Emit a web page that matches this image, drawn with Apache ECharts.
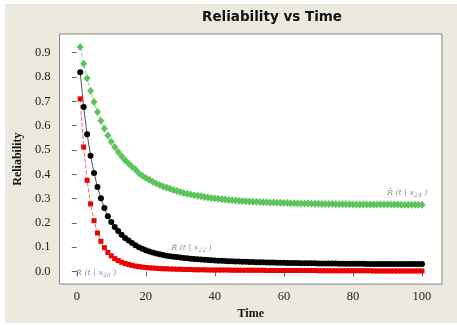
<!DOCTYPE html>
<html><head><meta charset="utf-8">
<script src="https://cdn.jsdelivr.net/npm/echarts@6/dist/echarts.min.js"></script>
<style>html,body{margin:0;padding:0;background:#fff}#c{width:457px;height:325px}</style>
</head><body><div id="c"></div>
<script>
const times = [1,2,3,4,5,6,7,8,9,10,11,12,13,14,15,16,17,18,19,20,21,22,23,24,25,26,27,28,29,30,31,32,33,34,35,36,37,38,39,40,41,42,43,44,45,46,47,48,49,50,51,52,53,54,55,56,57,58,59,60,61,62,63,64,65,66,67,68,69,70,71,72,73,74,75,76,77,78,79,80,81,82,83,84,85,86,87,88,89,90,91,92,93,94,95,96,97,98,99,100];
const rX24 = [.923,.855,.795,.744,.697,.656,.620,.588,.559,.534,.512,.492,.474,.458,.444,.431,.419,.404,.394,.385,.377,.369,.362,.356,.350,.345,.340,.335,.331,.327,.323,.320,.317,.314,.311,.309,.306,.304,.302,.300,.299,.297,.296,.294,.293,.292,.291,.290,.289,.288,.287,.287,.286,.285,.285,.284,.284,.283,.283,.282,.282,.281,.281,.281,.280,.280,.280,.279,.279,.279,.278,.278,.278,.278,.277,.277,.277,.277,.277,.276,.276,.276,.276,.276,.276,.275,.275,.275,.275,.275,.275,.275,.275,.274,.274,.274,.274,.274,.274,.274];
const rX22 = [.820,.677,.565,.476,.405,.348,.301,.261,.227,.203,.183,.166,.151,.138,.127,.117,.108,.100,.093,.087,.082,.078,.074,.071,.068,.065,.063,.061,.059,.057,.055,.054,.052,.051,.050,.049,.048,.047,.046,.045,.044,.044,.043,.042,.042,.041,.041,.040,.040,.039,.039,.038,.038,.038,.037,.037,.037,.036,.036,.036,.035,.035,.035,.035,.034,.034,.034,.034,.034,.033,.033,.033,.033,.033,.033,.032,.032,.032,.032,.032,.032,.032,.032,.031,.031,.031,.031,.031,.031,.031,.031,.031,.031,.031,.031,.031,.031,.031,.031,.031];
const rX20 = [.710,.512,.375,.278,.209,.158,.124,.098,.078,.064,.053,.045,.038,.033,.029,.025,.022,.020,.018,.016,.015,.014,.013,.012,.011,.011,.010,.010,.009,.009,.008,.008,.008,.007,.007,.007,.007,.006,.006,.006,.006,.006,.006,.006,.005,.005,.005,.005,.005,.005,.005,.005,.005,.005,.004,.004,.004,.004,.004,.004,.004,.004,.004,.004,.004,.004,.004,.004,.004,.003,.003,.003,.003,.003,.003,.003,.003,.003,.003,.003,.003,.003,.003,.003,.003,.002,.002,.002,.002,.002,.002,.002,.002,.002,.002,.002,.002,.002,.002,.002];
const xTicks = [0,20,40,60,80,100];
const yTicks = [0,0.1,0.2,0.3,0.4,0.5,0.6,0.7,0.8,0.9];
const yLabels = ['0.0','0.1','0.2','0.3','0.4','0.5','0.6','0.7','0.8','0.9'];
const curveNames = ['20','22','24'];
const labelPos = [[5.6,-0.006],[33.2,0.095],[95.7,0.325]];

const pairs = v => times.map((t,i)=>[t,v[i]]);
const tickFont = {fontFamily:'Liberation Serif', fontSize:12.5, color:'#222'};
const lblRich = {
  a:{fontFamily:'DejaVu Serif', fontStyle:'italic', fontSize:8, color:'#777'},
  s:{fontFamily:'DejaVu Serif', fontStyle:'italic', fontSize:6, color:'#777', padding:[5,0,0,0]}
};
const chart = echarts.init(document.getElementById('c'));
chart.setOption({
  animation:false,
  backgroundColor:'#fff',
  graphic:[
    {type:'rect', z:-10, shape:{x:5,y:4,width:452,height:319}, style:{fill:'#ECE9DF'}},
    {type:'text', x:272, y:17, style:{text:'Reliability vs Time', fontFamily:'DejaVu Sans', fontWeight:'bold', fontSize:13.5, fill:'#111', textAlign:'center', textVerticalAlign:'middle'}}
  ],
  grid:{left:59.5, right:15, top:34, bottom:34.5, show:true, backgroundColor:'#fff', borderColor:'#888', borderWidth:1},
  xAxis:{type:'value', min:-5, max:105.8, name:'Time', nameLocation:'middle', nameGap:23,
    nameTextStyle:{fontFamily:'Liberation Serif', fontWeight:'bold', fontSize:12, color:'#111'},
    axisLine:{show:false}, splitLine:{show:false},
    axisTick:{show:true, length:5, lineStyle:{color:'#666'}, customValues:xTicks},
    axisLabel:Object.assign({margin:6, customValues:xTicks}, tickFont)},
  yAxis:{type:'value', min:-0.052, max:0.977, name:'Reliability', nameLocation:'middle', nameGap:36,
    nameTextStyle:{fontFamily:'Liberation Serif', fontWeight:'bold', fontSize:12, color:'#111'},
    axisLine:{show:false}, splitLine:{show:false},
    axisTick:{show:true, length:5, lineStyle:{color:'#666'}, customValues:yTicks},
    axisLabel:Object.assign({margin:9, customValues:yTicks, formatter:v=>yLabels[Math.round(v*10)]}, tickFont)},
  series:[
    {type:'line', data:pairs(rX24), symbol:'diamond', symbolSize:[7,8], itemStyle:{color:'#5cc45c'},
      lineStyle:{color:'#8fd88f', width:1, type:'dashed'}},
    {type:'line', data:pairs(rX22), symbol:'circle', symbolSize:6, itemStyle:{color:'#000'},
      lineStyle:{color:'#555', width:1}},
    {type:'line', data:pairs(rX20), symbol:'rect', symbolSize:5, itemStyle:{color:'#ee0000'},
      lineStyle:{color:'#e66', width:1, type:'dashed'}},
    {type:'scatter', silent:true, symbolSize:1, itemStyle:{color:'rgba(0,0,0,0)'},
      data:labelPos.map((p,i)=>({value:p, name:curveNames[i]})),
      label:{show:true, position:'inside', formatter:p=>'{a|R\u0302 (t | x}{s|'+p.name+'}{a| )}', rich:lblRich}}
  ]
});
</script></body></html>
